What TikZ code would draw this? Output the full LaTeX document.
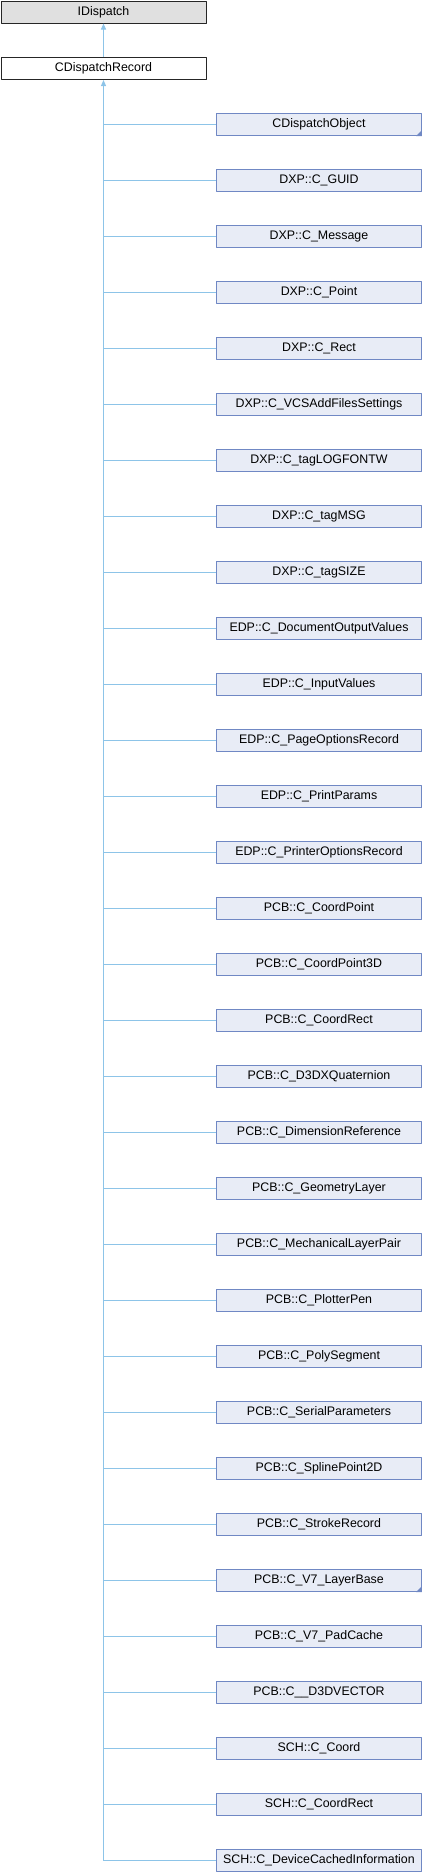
\documentclass[tikz,border=0pt]{standalone}
\usepackage{fontspec}
\setmainfont{Liberation Sans}
\usetikzlibrary{arrows.meta}

\definecolor{edgeblue}{HTML}{8DC4E8}
\definecolor{boxfill}{HTML}{E8ECF6}
\definecolor{boxline}{HTML}{7088C4}
\definecolor{extfill}{HTML}{E0E0E0}

\begin{document}
\begin{tikzpicture}[x = 1pt, y = -1pt, line join = round,
  box/.style = {draw = boxline, fill = boxfill, line width = 1pt,
    minimum width = 205pt, minimum height = 22pt, inner sep = 0pt,
    anchor = north west, font = \fontsize{12.4}{14}\selectfont},
  topbox/.style = {box, draw = black!85, fill = white},
  edge/.style = {draw = edgeblue, line width = 1pt},
  parent/.tip = {Triangle[width = 5pt, length = 6pt]}]
  \useasboundingbox (0, 0) rectangle (422, 1872);

  \node[topbox, fill = extfill] (idisp) at (0.5, 0.5) {IDispatch};
  \node[topbox] (rec) at (0.5, 57) {CDispatchRecord};
  \draw[edge, -parent] (rec.north) -- (idisp.south);

  \foreach \name [count = \i from 0] in {CDispatchObject, DXP::C\_GUID,
    DXP::C\_Message, DXP::C\_Point, DXP::C\_Rect,
    DXP::C\_VCSAddFilesSettings, DXP::C\_tagLOGFONTW, DXP::C\_tagMSG,
    DXP::C\_tagSIZE, EDP::C\_DocumentOutputValues, EDP::C\_InputValues,
    EDP::C\_PageOptionsRecord, EDP::C\_PrintParams,
    EDP::C\_PrinterOptionsRecord, PCB::C\_CoordPoint, PCB::C\_CoordPoint3D,
    PCB::C\_CoordRect, PCB::C\_D3DXQuaternion, PCB::C\_DimensionReference,
    PCB::C\_GeometryLayer, PCB::C\_MechanicalLayerPair, PCB::C\_PlotterPen,
    PCB::C\_PolySegment, PCB::C\_SerialParameters, PCB::C\_SplinePoint2D,
    PCB::C\_StrokeRecord, PCB::C\_V7\_LayerBase, PCB::C\_V7\_PadCache,
    PCB::C\_\_D3DVECTOR, SCH::C\_Coord, SCH::C\_CoordRect,
    SCH::C\_DeviceCachedInformation}
  {
    \node[box] (n\i) at (216, 113 + 56*\i) {\name};
    \draw[edge] (rec.south |- n\i.west) -- (n\i.west);
  }

  % trunk
  \draw[edge, parent-] (rec.south) -- (rec.south |- n31.west);

  % more children
  \fill[boxline] (n0.south east) -- +(-6, 0) -- +(0, -6) -- cycle;
  \fill[boxline] (n26.south east) -- +(-6, 0) -- +(0, -6) -- cycle;
\end{tikzpicture}
\end{document}
